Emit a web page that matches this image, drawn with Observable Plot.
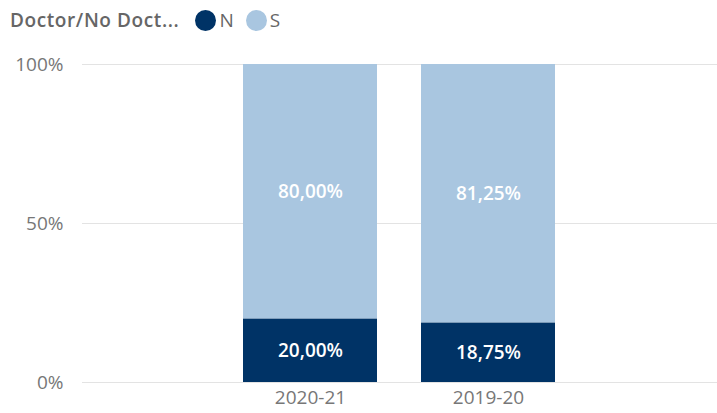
<!DOCTYPE html>
<html>
<head>
<meta charset="utf-8">
<script src="https://cdn.jsdelivr.net/npm/d3@7"></script>
<script src="https://cdn.jsdelivr.net/npm/@observablehq/plot@0.6"></script>
<style>
  html, body { margin: 0; padding: 0; background: #fff; }
  body { width: 717px; height: 413px; overflow: hidden; font-family: "Open Sans", "DejaVu Sans", sans-serif; }
  #legend { height: 40px; display: flex; align-items: center; padding-left: 10px; box-sizing: border-box; font-size: 19px; color: #666; }
  #legend .title { font-weight: 600; margin-right: 16px; letter-spacing: 0.6px; }
  #legend .item { display: flex; align-items: center; margin-right: 12px; }
  #legend .dot { width: 21px; height: 21px; border-radius: 50%; margin-right: 3px; }
</style>
</head>
<body>
<div id="legend"></div>
<div id="chart"></div>
<script>
const categories = ["2020-21", "2019-20"];
const seriesKeys = ["N", "S"];
const valuesN = [20.00, 18.75];
const valuesS = [80.00, 81.25];
const colors = ["#003366", "#A9C6E0"];
const yTicks = [0, 50, 100];
const legendTitle = "Doctor/No Doct...";

const data = [];
seriesKeys.forEach((k, si) => {
  const vals = si === 0 ? valuesN : valuesS;
  categories.forEach((c, ci) => data.push({cat: c, key: k, value: vals[ci]}));
});

const legend = document.getElementById("legend");
legend.innerHTML = `<span class="title">${legendTitle}</span>` +
  seriesKeys.map((k, i) => `<span class="item"><span class="dot" style="background:${colors[i]}"></span>${k}</span>`).join("");

const fmt = v => v.toFixed(2).replace(".", ",") + "%";

const chart = Plot.plot({
  width: 717,
  height: 373,
  marginLeft: 82,
  marginRight: 0,
  marginTop: 24,
  marginBottom: 31,
  style: { fontFamily: "'Open Sans', sans-serif", background: "#fff" },
  x: { domain: categories, paddingInner: 0.246, paddingOuter: 0.897, label: null, tickSize: 0, tickPadding: 10 },
  y: { domain: [0, 100], ticks: yTicks, label: null },
  color: { domain: seriesKeys, range: colors },
  marks: [
    Plot.ruleY(yTicks, { stroke: "#e3e3e3", strokeWidth: 1 }),
    Plot.barY(data, Plot.stackY({ x: "cat", y: "value", fill: "key", z: "key" })),
    Plot.text(data, Plot.stackY({ x: "cat", y: "value", z: "key", text: d => fmt(d.value), fill: "white", fontSize: 19, fontWeight: 600 })),
    Plot.axisY({ ticks: yTicks, tickSize: 0, tickPadding: 19, tickFormat: d => d + "%", fontSize: 19, fill: "#777", label: null }),
    Plot.axisX({ tickSize: 0, tickPadding: 8, fontSize: 19, fill: "#777", label: null })
  ]
});
document.getElementById("chart").appendChild(chart);
</script>
</body>
</html>
